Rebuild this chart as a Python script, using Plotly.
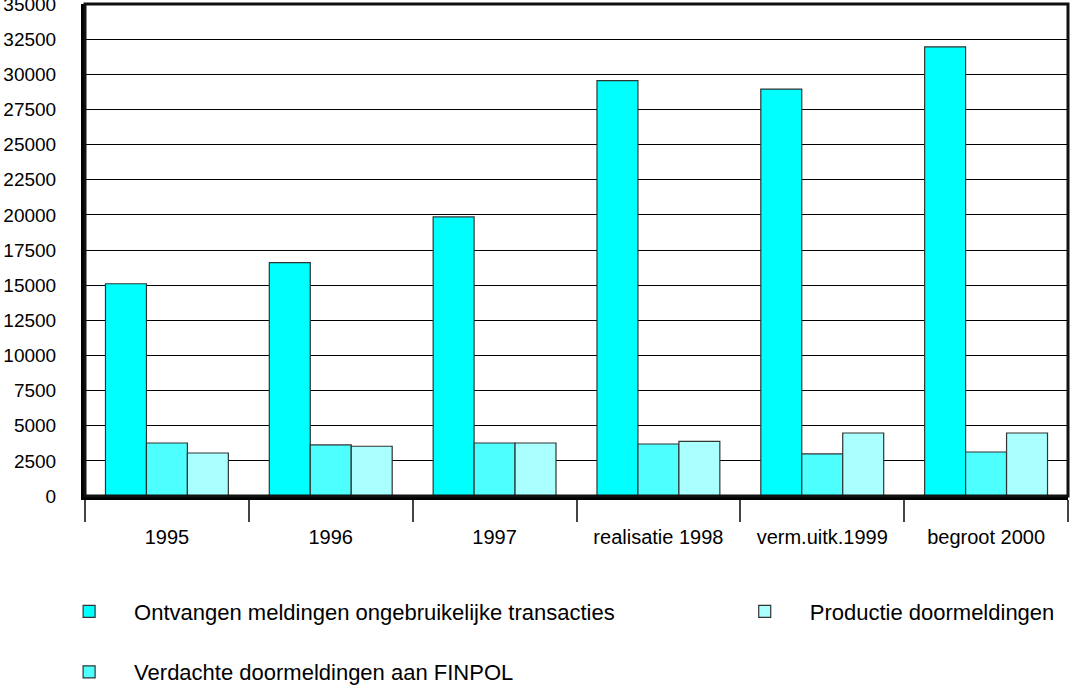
import plotly.graph_objects as go

categories = ["1995", "1996", "1997", "realisatie 1998", "verm.uitk.1999", "begroot 2000"]
ontvangen = [15100, 16600, 19850, 29550, 28950, 31950]
verdachte = [3770, 3630, 3770, 3700, 2990, 3130]
productie = [3060, 3540, 3770, 3890, 4480, 4480]

series_names = [
    "Ontvangen meldingen ongebruikelijke transacties",
    "Verdachte doormeldingen aan FINPOL",
    "Productie doormeldingen",
]
colors = ["#00FFFF", "#4DFFFF", "#AAFFFF"]
legends = ["legend", "legend3", "legend2"]
y_ticks = list(range(0, 35001, 2500))

FONT = "Liberation Sans, Arial, sans-serif"

fig = go.Figure()
for name, vals, col, lg in zip(series_names, [ontvangen, verdachte, productie], colors, legends):
    fig.add_trace(go.Bar(
        x=categories, y=vals, name=name,
        marker=dict(color=col, line=dict(color="#333333", width=1.2)),
        legend=lg,
    ))

legend_common = dict(
    orientation="v", xanchor="left", yanchor="middle",
    font=dict(family=FONT, size=22, color="#000"),
    itemwidth=80, bgcolor="rgba(0,0,0,0)", borderwidth=0,
)

fig.update_layout(
    width=1071, height=685,
    margin=dict(l=85, r=3, t=4, b=189, autoexpand=False),
    paper_bgcolor="white", plot_bgcolor="white",
    barmode="group", bargap=0.25, bargroupgap=0,
    font=dict(family=FONT, size=20, color="#000"),
    showlegend=True,
    legend=dict(x=-0.0416, y=-0.2348, **legend_common),
    legend2=dict(x=0.6457, y=-0.2348, **legend_common),
    legend3=dict(x=-0.0416, y=-0.3578, **legend_common),
    xaxis=dict(
        type="category", showline=True, linecolor="#000", linewidth=4,
        ticks="outside", tickson="boundaries", ticklen=22, tickcolor="#444", tickwidth=1.5,
        showgrid=False, tickfont=dict(size=20), ticklabelstandoff=20,
    ),
    yaxis=dict(
        range=[0, 35000], tickvals=y_ticks, tickformat="d",
        showline=True, linecolor="#000", linewidth=4,
        showgrid=True, gridcolor="#000", gridwidth=1,
        zeroline=False, ticks="", tickfont=dict(size=19),
        ticklabelstandoff=21, ticklabeloverflow="allow",
    ),
    shapes=[dict(type="rect", xref="paper", yref="paper", x0=0, x1=1, y0=0, y1=1,
                 line=dict(color="#111", width=3), layer="above")],
)

fig.write_html("out.html")
